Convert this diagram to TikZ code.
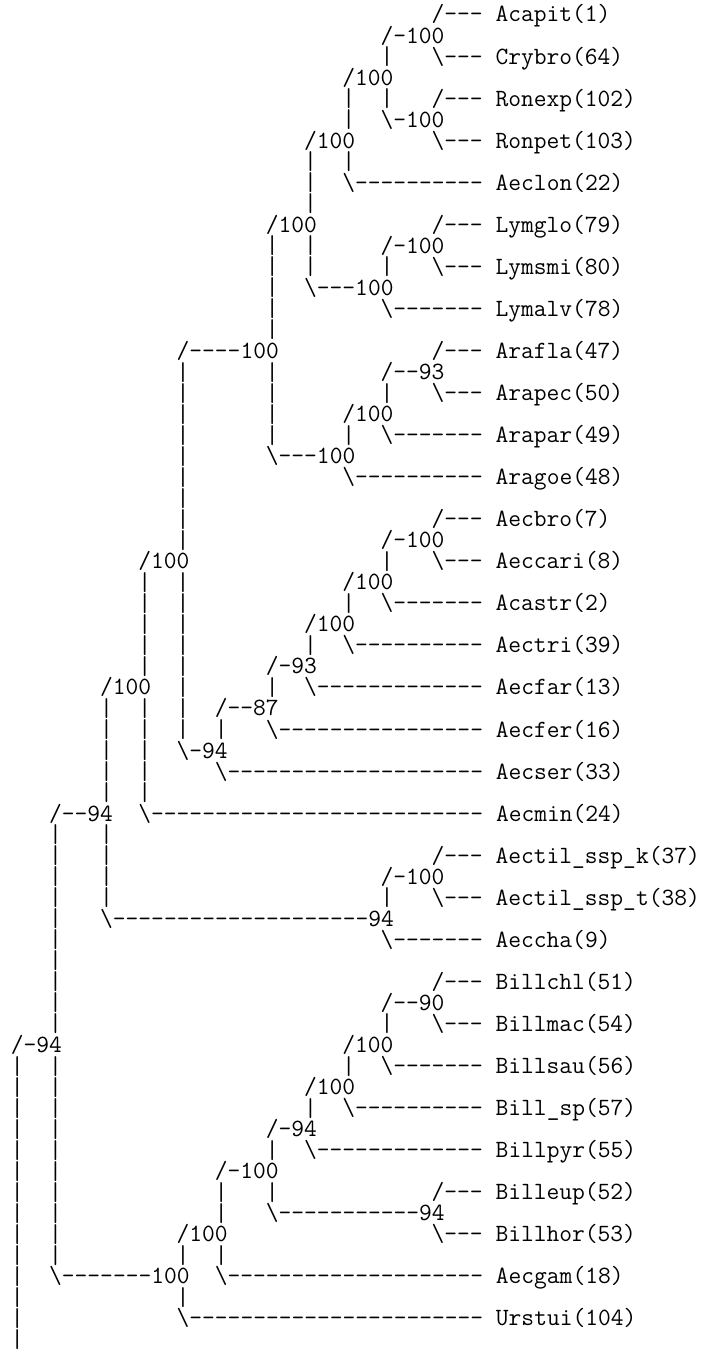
\documentclass[tikz,border=0pt]{standalone}
\usepackage{tikz}
\newcommand\bs{\textbackslash}
\tikzset{asc/.style={font=\ttfamily\fontsize{12.4}{12.4}\selectfont, inner sep=0pt, anchor=base west}}

\begin{document}
\begin{tikzpicture}[x=0.5pt, y=-0.5pt]
\useasboundingbox (0,0) rectangle (701,1354);
% clade labels
\foreach \c/\r/\t in {29/1/{/-100}, 29/5/{\bs-100}, 26/3/{/100}, 23/6/{/100}, 20/10/{/100}, 23/13/{\bs---100}, 29/11/{/-100}, 13/16/{/----100}, 29/17/{/--93}, 26/19/{/100}, 20/21/{\bs---100}, 29/25/{/-100}, 10/26/{/100}, 26/27/{/100}, 23/29/{/100}, 20/31/{/-93}, 7/32/{/100}, 16/33/{/--87}, 13/35/{\bs-94}, 3/38/{/--94}, 29/41/{/-100}, 7/43/{\bs--------------------94}, 29/47/{/--90}, 0/49/{/-94}, 26/49/{/100}, 23/51/{/100}, 20/53/{/-94}, 16/55/{/-100}, 20/57/{\bs-----------94}, 13/58/{/100}, 3/60/{\bs-------100}} {
  \node[asc] (lab-\r-\c) at ({10.5+12.75*\c},{22+21.03*\r}) {\t}; }
% taxa
\foreach \c/\r/\t in {33/0/{/--- Acapit(1)}, 33/2/{\bs--- Crybro(64)}, 33/4/{/--- Ronexp(102)}, 33/6/{\bs--- Ronpet(103)}, 26/8/{\bs---------- Aeclon(22)}, 33/10/{/--- Lymglo(79)}, 33/12/{\bs--- Lymsmi(80)}, 29/14/{\bs------- Lymalv(78)}, 33/16/{/--- Arafla(47)}, 33/18/{\bs--- Arapec(50)}, 29/20/{\bs------- Arapar(49)}, 26/22/{\bs---------- Aragoe(48)}, 33/24/{/--- Aecbro(7)}, 33/26/{\bs--- Aeccari(8)}, 29/28/{\bs------- Acastr(2)}, 26/30/{\bs---------- Aectri(39)}, 23/32/{\bs------------- Aecfar(13)}, 20/34/{\bs---------------- Aecfer(16)}, 16/36/{\bs-------------------- Aecser(33)}, 10/38/{\bs-------------------------- Aecmin(24)}, 33/40/{/--- Aectil\_ssp\_k(37)}, 33/42/{\bs--- Aectil\_ssp\_t(38)}, 29/44/{\bs------- Aeccha(9)}, 33/46/{/--- Billchl(51)}, 33/48/{\bs--- Billmac(54)}, 29/50/{\bs------- Billsau(56)}, 26/52/{\bs---------- Bill\_sp(57)}, 23/54/{\bs------------- Billpyr(55)}, 33/56/{/--- Billeup(52)}, 33/58/{\bs--- Billhor(53)}, 16/60/{\bs-------------------- Aecgam(18)}, 13/62/{\bs----------------------- Urstui(104)}} {
  \node[asc] (tax-\r-\c) at ({10.5+12.75*\c},{22+21.03*\r}) {\t}; }
% vertical bars
\foreach \c/\a/\b in {29/2/2, 29/4/4, 26/4/5, 26/7/7, 23/7/9, 23/11/12, 29/12/12, 20/11/15, 20/17/20, 29/18/18, 26/20/20, 13/17/25, 13/27/34, 29/26/26, 26/28/28, 23/30/30, 20/32/32, 16/34/34, 10/27/31, 10/33/37, 7/33/37, 7/39/42, 29/42/42, 3/39/48, 3/50/59, 29/48/48, 26/50/50, 23/52/52, 20/54/54, 20/56/56, 16/56/57, 16/59/59, 13/59/59, 13/61/61, 0/50/63}
  \foreach \r in {\a,...,\b}
    \node[asc] (bar-\r-\c) at ({10.5+12.75*\c},{22.5+21.03*\r}) {\scalebox{1}[1.04]{|}};
\end{tikzpicture}
\end{document}
